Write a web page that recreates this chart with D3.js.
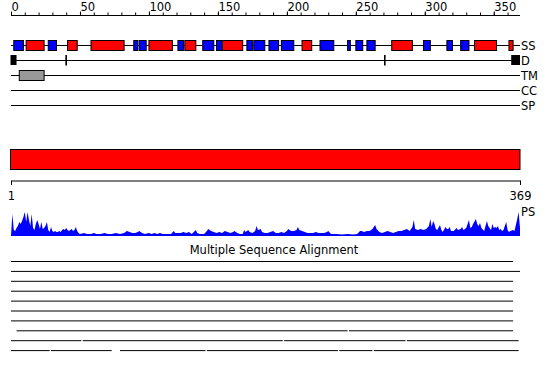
<html lang="en">
<head>
  <meta charset="UTF-8" />
  <title>Protein feature overview</title>
  <style>
    body { margin: 0; background: #fff; }
    svg { display: block; }
    text { font-family: "DejaVu Sans", sans-serif; font-size: 11.5px; fill: #000; }
    .track { stroke: #000; stroke-width: 1px; fill: none; }
    .box { stroke: #000; stroke-width: 1px; }
    .domain { stroke: #000; }
    .tick line { stroke: #000; }
  </style>
</head>
<body>
  <svg width="550" height="380"></svg>

  <script src="https://d3js.org/d3.v7.min.js"></script>
  <script>
    const seqLength = 369;
    const rowNames = ["SS", "D", "TM", "CC", "SP"];

    // secondary structure: [first residue, last residue]
    const helices = [[12, 24], [42, 48], [59, 82], [101, 117], [127, 134], [154, 168],
      [212, 218], [277, 291], [337, 352], [362, 364]];
    const strands = [[3, 9], [28, 33], [90, 92], [94, 98], [122, 125], [140, 147], [150, 153],
      [172, 175], [177, 184], [188, 194], [197, 205], [225, 234], [245, 246], [251, 255],
      [259, 264], [300, 304], [317, 320], [327, 332]];

    // domains
    const domainBoxes = [[1, 4], [364, 369]];
    const domainCuts = [40, 271];

    // transmembrane
    const tmSegments = [[7, 24]];

    // prediction score profile: [residue, score]
    const psScores = [[1,22],[2,6],[3,5],[4,8],[5,10],[6,14],[7,12],[8,15],[9,19],[10,24],[11,14],[12,24],
      [13,16],[14,10],[15,22],[16,8],[17,6],[18,12],[19,16],[20,12],[21,7],[22,14],[23,7],[24,8],
      [25,10],[26,14],[27,6],[28,4],[29,9],[30,5],[31,4],[32,5],[33,4],[34,4],[35,5],[36,4],[37,6],
      [38,7],[39,6],[40,8],[41,6],[42,5],[43,6],[44,7],[45,5],[46,6],[47,9],[48,5],[49,3],[50,2],
      [53,3],[55,2],[58,2],[60,3],[62,2],[65,2],[68,3],[70,2],[73,2],[76,3],[79,2],[82,3],[84,5],
      [86,4],[88,3],[90,3],[92,4],[93,5],[95,3],[97,2],[100,3],[102,2],[104,3],[106,2],[108,3],
      [110,2],[113,2],[116,2],[118,5],[119,3],[121,3],[123,3],[125,4],[127,3],[129,4],[131,2],
      [134,6],[135,3],[137,2],[140,2],[142,5],[143,7],[145,5],[147,4],[149,3],[151,4],[153,3],
      [155,5],[157,4],[159,3],[161,4],[162,5],[164,3],[166,2],[168,2],[169,6],[170,4],[172,6],
      [173,4],[175,3],[177,5],[178,10],[179,6],[181,7],[182,4],[184,3],[186,3],[188,4],[190,5],
      [192,3],[194,3],[196,4],[198,3],[200,5],[201,7],[203,5],[205,5],[207,6],[208,9],[209,6],
      [211,5],[213,4],[215,3],[217,3],[219,3],[221,4],[223,3],[225,3],[227,3],[229,4],[230,5],
      [232,2],[234,2],[236,2],[240,1.5],[244,2],[248,1.5],[251,2],[253,5],[254,5],[256,4],[258,5],
      [260,5],[262,7],[264,11],[265,7],[267,4],[269,3],[271,4],[273,5],[275,4],[277,3],[279,4],
      [281,5],[283,5],[285,6],[287,7],[289,5],[291,9],[292,16],[293,7],[295,6],[297,7],[299,6],
      [301,7],[303,10],[304,17],[305,9],[306,15],[307,12],[308,7],[309,6],[311,11],[312,6],
      [313,4],[315,9],[316,7],[317,7],[318,9],[319,5],[321,5],[323,8],[324,6],[326,7],[327,9],
      [328,6],[330,8],[332,16],[333,8],[334,9],[335,12],[337,17],[338,12],[339,10],[340,13],
      [341,8],[343,5],[345,15],[346,10],[347,8],[348,6],[349,12],[350,8],[351,9],[352,8],
      [353,10],[354,6],[355,7],[356,5],[357,6],[359,14],[360,6],[361,4],[362,5],[364,6],[365,5],
      [367,17],[368,24],[369,8]];

    // multiple sequence alignment: covered residue ranges per aligned sequence
    const alignments = [
      [[1, 364]],
      [[1, 369]],
      [[1, 364]],
      [[1, 364]],
      [[1, 364]],
      [[1, 364]],
      [[1, 364]],
      [[5, 244], [246, 364]],
      [[1, 51], [53, 197], [199, 286], [288, 368]],
      [[1, 28], [30, 73], [80, 141], [143, 237], [239, 262], [264, 368]]
    ];

    const svg = d3.select("svg");

    const x = d3.scaleLinear().domain([0, seqLength]).range([11, 520]);
    const rowY = d3.scalePoint().domain(rowNames).range([45.5, 105.5]);

    // top ruler
    const ruler = svg.append("g").attr("transform", "translate(0,15.5)");
    ruler.append("g")
      .call(d3.axisTop(x).tickValues(d3.range(0, seqLength, 10)).tickSize(3).tickSizeOuter(0).tickFormat(""))
      .call(g => g.select(".domain").attr("d", `M${x(0)},0H${x(seqLength)}`));
    ruler.append("g")
      .call(d3.axisTop(x).tickValues(d3.range(0, seqLength, 50)).tickSize(4).tickSizeOuter(0))
      .call(g => g.select(".domain").remove())
      .call(g => g.selectAll("text")
        .attr("text-anchor", "start").attr("y", -4.5).attr("dy", null)
        .attr("font-family", null).attr("font-size", null));

    // feature rows
    const rows = svg.append("g");
    rowNames.forEach(name => {
      rows.append("line").attr("class", "track")
        .attr("x1", x(0)).attr("x2", x(seqLength))
        .attr("y1", rowY(name)).attr("y2", rowY(name));
      rows.append("text").attr("x", x(seqLength) + 1).attr("y", rowY(name) + 4.5).text(name);
    });

    const ssBoxes = helices.map(d => ({ s: d[0], e: d[1], color: "#ff0000" }))
      .concat(strands.map(d => ({ s: d[0], e: d[1], color: "#0000ff" })));
    rows.selectAll("rect.ss").data(ssBoxes).join("rect")
      .attr("class", "box ss")
      .attr("x", d => x(d.s - 1)).attr("width", d => x(d.e) - x(d.s - 1))
      .attr("y", rowY("SS") - 5).attr("height", 10)
      .attr("fill", d => d.color);

    rows.selectAll("rect.dom").data(domainBoxes).join("rect")
      .attr("class", "dom")
      .attr("x", d => x(d[0] - 1) - 0.5).attr("width", d => x(d[1]) - x(d[0] - 1) + 0.5)
      .attr("y", rowY("D") - 5.5).attr("height", 10)
      .attr("fill", "#000");
    rows.selectAll("line.cut").data(domainCuts).join("line")
      .attr("class", "cut")
      .attr("x1", d => x(d)).attr("x2", d => x(d))
      .attr("y1", rowY("D") - 5.5).attr("y2", rowY("D") + 5)
      .attr("stroke", "#000").attr("stroke-width", 1.6);

    rows.selectAll("rect.tm").data(tmSegments).join("rect")
      .attr("class", "box tm")
      .attr("x", d => x(d[0] - 1)).attr("width", d => x(d[1]) - x(d[0] - 1))
      .attr("y", rowY("TM") - 5).attr("height", 10)
      .attr("fill", "#999999");

    // full-length sequence bar
    svg.append("rect").attr("class", "box")
      .attr("x", x(0) - 0.5).attr("y", 149.5)
      .attr("width", x(seqLength) - x(0) + 0.5).attr("height", 20)
      .attr("fill", "#ff0000");

    // bottom ruler 1..369
    const xr = d3.scaleLinear().domain([1, seqLength]).range([11, 520]);
    svg.append("g").attr("transform", "translate(0,180.5)")
      .call(d3.axisBottom(xr).tickValues([1, seqLength]).tickSize(4.5).tickSizeOuter(0))
      .call(g => g.selectAll("text").attr("y", 19).attr("dy", null)
        .attr("font-family", null).attr("font-size", null));

    // prediction score profile
    const yPs = d3.scaleLinear().domain([0, 25]).range([236, 211]);
    svg.append("path")
      .attr("fill", "#0000ff")
      .attr("d", d3.area()
        .x(d => x(d[0]))
        .y0(yPs(0))
        .y1(d => yPs(d[1]))([[0, 0], ...psScores, [seqLength, 0]]));
    svg.append("text").attr("x", 521).attr("y", 216).text("PS");

    // alignment
    svg.append("text").attr("x", 274).attr("y", 254)
      .attr("text-anchor", "middle").text("Multiple Sequence Alignment");
    const msa = svg.append("g");
    alignments.forEach((segs, i) => {
      const yy = 261.5 + i * 9.9;
      msa.selectAll(null).data(segs).join("line")
        .attr("class", "track")
        .attr("x1", d => x(d[0] - 1)).attr("x2", d => x(d[1]))
        .attr("y1", yy).attr("y2", yy);
    });
  </script>
</body>
</html>
